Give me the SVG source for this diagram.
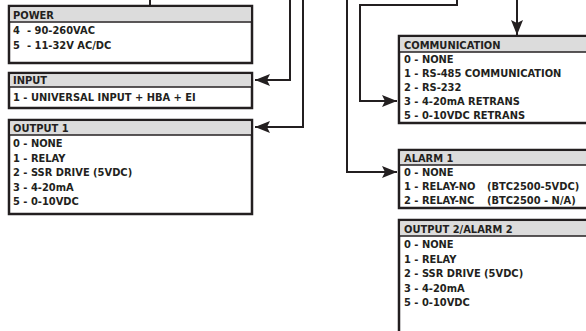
<svg xmlns="http://www.w3.org/2000/svg" width="586" height="331" viewBox="0 0 586 331">
<defs>
<style>
.box{fill:#fff;stroke:#231f20;stroke-width:2.5}
.hdr{fill:#dcdcdc}
.sep{stroke:#231f20;stroke-width:1.5}
.t{font-family:"Liberation Sans Narrow","DejaVu Sans Condensed","Liberation Sans",sans-serif;font-weight:bold;font-size:11px;fill:#231f20}
.wire{fill:none;stroke:#231f20;stroke-width:2}
</style>
<marker id="ah" markerUnits="userSpaceOnUse" markerWidth="16" markerHeight="12" refX="15" refY="6" orient="auto">
<path d="M0,0 L15,6 L0,12 L3,6 Z" fill="#231f20"/>
</marker>
</defs>
<rect width="586" height="331" fill="#fff"/>
<g id="connectors">
<path class="wire" d="M150,0 V5"/>
<path class="wire" d="M290,0 V80 H255" marker-end="url(#ah)"/>
<path class="wire" d="M303,0 V127 H255" marker-end="url(#ah)"/>
<path class="wire" d="M347,0 V172 H397" marker-end="url(#ah)"/>
<path class="wire" d="M457,0 V5 H360 V101 H397" marker-end="url(#ah)"/>
<path class="wire" d="M517,0 V35" marker-end="url(#ah)"/>
</g>
<g id="power">
<rect class="box" x="9" y="6" width="243" height="57"/>
<rect class="hdr" x="10.25" y="7.25" width="240.5" height="14"/>
<line class="sep" x1="9" y1="22" x2="252" y2="22"/>
<text class="t" x="13" y="18.5">POWER</text>
<text class="t" x="13" y="34">4</text><text class="t" x="27" y="34">- 90-260VAC</text>
<text class="t" x="13" y="49">5</text><text class="t" x="27" y="49">- 11-32V AC/DC</text>
</g>
<g id="input">
<rect class="box" x="9" y="73" width="243" height="35"/>
<rect class="hdr" x="10.25" y="74.25" width="240.5" height="12.5"/>
<line class="sep" x1="9" y1="87" x2="252" y2="87"/>
<text class="t" x="13" y="84">INPUT</text>
<text class="t" x="13" y="101">1 - UNIVERSAL INPUT + HBA + EI</text>
</g>
<g id="output1">
<rect class="box" x="9" y="120" width="243" height="94"/>
<rect class="hdr" x="10.25" y="121.25" width="240.5" height="13.5"/>
<line class="sep" x1="9" y1="135" x2="252" y2="135"/>
<text class="t" x="13" y="132">OUTPUT 1</text>
<text class="t" x="13" y="147">0 - NONE</text>
<text class="t" x="13" y="161.5">1 - RELAY</text>
<text class="t" x="13" y="176">2 - SSR DRIVE (5VDC)</text>
<text class="t" x="13" y="190.5">3 - 4-20mA</text>
<text class="t" x="13" y="205">5 - 0-10VDC</text>
</g>
<g id="communication">
<rect class="box" x="399" y="36" width="200" height="87"/>
<rect class="hdr" x="400.25" y="37.25" width="198" height="14.5"/>
<line class="sep" x1="399" y1="52" x2="600" y2="52"/>
<text class="t" x="404" y="48.5">COMMUNICATION</text>
<text class="t" x="404" y="63">0 - NONE</text>
<text class="t" x="404" y="77">1 - RS-485 COMMUNICATION</text>
<text class="t" x="404" y="91">2 - RS-232</text>
<text class="t" x="404" y="105">3 - 4-20mA RETRANS</text>
<text class="t" x="404" y="119">5 - 0-10VDC RETRANS</text>
</g>
<g id="alarm1">
<rect class="box" x="399" y="150" width="200" height="58"/>
<rect class="hdr" x="400.25" y="151.25" width="198" height="13.5"/>
<line class="sep" x1="399" y1="165" x2="600" y2="165"/>
<text class="t" x="404" y="162">ALARM 1</text>
<text class="t" x="404" y="176">0 - NONE</text>
<text class="t" x="404" y="190">1 - RELAY-NO</text><text class="t" x="487" y="190">(BTC2500-5VDC)</text>
<text class="t" x="404" y="204">2 - RELAY-NC</text><text class="t" x="487" y="204">(BTC2500 - N/A)</text>
</g>
<g id="output2">
<rect class="box" x="399" y="220" width="200" height="120"/>
<rect class="hdr" x="400.25" y="221.25" width="198" height="14.5"/>
<line class="sep" x1="399" y1="236" x2="600" y2="236"/>
<text class="t" x="404" y="232.5">OUTPUT 2/ALARM 2</text>
<text class="t" x="404" y="248">0 - NONE</text>
<text class="t" x="404" y="262.5">1 - RELAY</text>
<text class="t" x="404" y="277">2 - SSR DRIVE (5VDC)</text>
<text class="t" x="404" y="291.5">3 - 4-20mA</text>
<text class="t" x="404" y="306">5 - 0-10VDC</text>
</g>
</svg>
